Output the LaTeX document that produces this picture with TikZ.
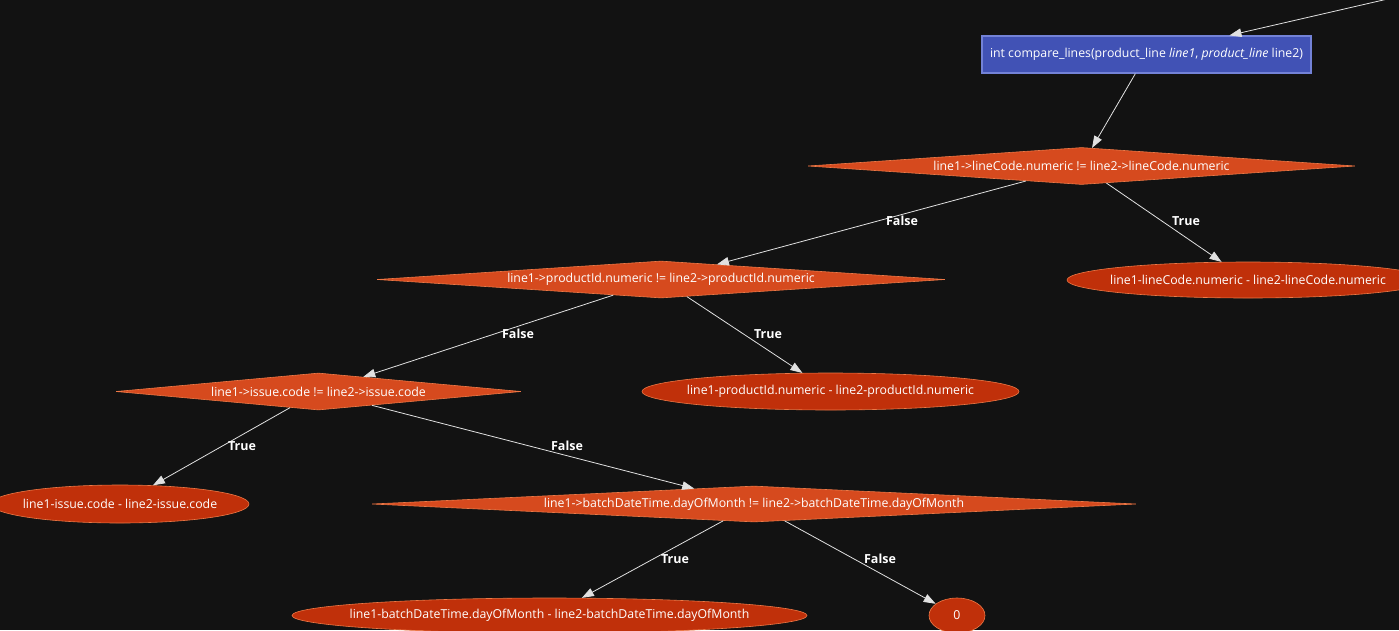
\documentclass[tikz,border=0pt]{standalone}
\usepackage{fontspec}
\setmainfont{Open Sans}
\usetikzlibrary{shapes.geometric,arrows.meta}
\definecolor{bg}{RGB}{18,18,18}
\definecolor{boxfill}{RGB}{65,82,181}
\definecolor{boxdraw}{RGB}{115,130,215}
\definecolor{dfill}{RGB}{214,74,30}
\definecolor{efill}{RGB}{192,48,10}
\definecolor{odraw}{RGB}{238,120,70}
\definecolor{linec}{RGB}{225,225,225}
\begin{document}
\begin{tikzpicture}[x=1pt,y=-1pt,
 every node/.style={font=\fontsize{12.3}{14}\selectfont, text=white},
 fnbox/.style={rectangle, fill=boxfill, draw=boxdraw, line width=1.2pt, minimum width=329pt, minimum height=37pt, inner sep=0pt},
 cond/.style={diamond, aspect=14, fill=dfill, draw=odraw, line width=0.6pt, inner sep=0pt},
 res/.style={ellipse, fill=efill, draw=odraw, line width=0.6pt, inner sep=0pt},
 conn/.style={draw=linec, line width=0.8pt, -{Triangle[length=12pt,width=8.5pt]}},
 elabel/.style={font=\bfseries\fontsize{12.5}{14}\selectfont, inner sep=1pt}]
\fill[bg, use as bounding box] (0,0) rectangle (1399,630);

\coordinate (start) at (1399,-3.6);
\node[fnbox] (f) at (1146.5,54.5) {\makebox[0pt]{int compare\_lines(product\_line \textit{line1}, \textit{product\_line} line2)}};

\node[cond, minimum width=547pt, minimum height=37pt] (d1) at (1081.5,166) {\makebox[0pt]{line1->lineCode.numeric != line2->lineCode.numeric}};
\node[cond, minimum width=568pt, minimum height=37pt] (d2) at (661,279.5) {\makebox[0pt]{line1->productId.numeric != line2->productId.numeric}};
\node[cond, minimum width=405pt, minimum height=37pt] (d3) at (318.5,391.5) {\makebox[0pt]{line1->issue.code != line2->issue.code}};
\node[cond, minimum width=764pt, minimum height=36pt] (d4) at (754,504) {\makebox[0pt]{line1->batchDateTime.dayOfMonth != line2->batchDateTime.dayOfMonth}};

\node[res, minimum width=362pt, minimum height=36pt] (e1) at (1248,280) {\makebox[0pt]{line1-lineCode.numeric - line2-lineCode.numeric}};
\node[res, minimum width=377pt, minimum height=37pt] (e2) at (830.5,391.5) {\makebox[0pt]{line1-productId.numeric - line2-productId.numeric}};
\node[res, minimum width=258pt, minimum height=38pt] (e3) at (120,504) {\makebox[0pt]{line1-issue.code - line2-issue.code}};
\node[res, minimum width=515pt, minimum height=35pt] (e4) at (549.5,615.5) {\makebox[0pt]{line1-batchDateTime.dayOfMonth - line2-batchDateTime.dayOfMonth}};
\node[res, minimum width=56pt, minimum height=35pt] (e5) at (957,615.5) {\makebox[0pt]{0}};

\draw[conn] (start) -- (f);
\draw[conn] (f) -- (d1);
\draw[conn] (d1) -- (d2);
\draw[conn] (d1) -- (e1);
\draw[conn] (d2) -- (d3);
\draw[conn] (d2) -- (e2);
\draw[conn] (d3) -- (e3);
\draw[conn] (d3) -- (d4);
\draw[conn] (d4) -- (e4);
\draw[conn] (d4) -- (e5);

\node[elabel] (l1) at (902,221) {False};
\node[elabel] (l2) at (1186,221) {True};
\node[elabel] (l3) at (518,334) {False};
\node[elabel] (l4) at (768,334) {True};
\node[elabel] (l5) at (242,446) {True};
\node[elabel] (l6) at (567,446) {False};
\node[elabel] (l7) at (675,559) {True};
\node[elabel] (l8) at (880,559) {False};
\end{tikzpicture}
\end{document}
